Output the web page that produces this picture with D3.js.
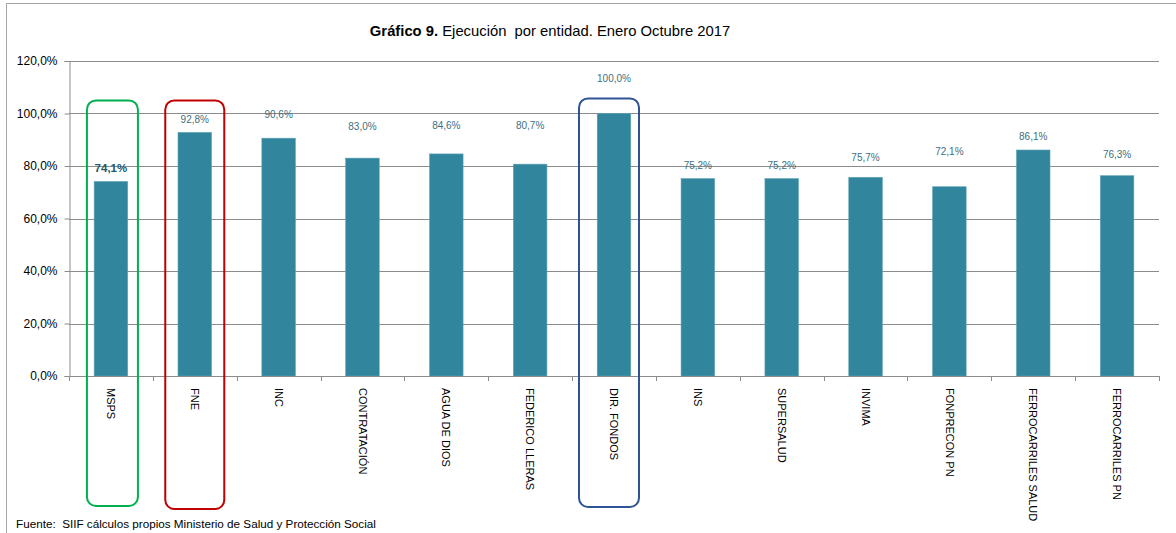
<!DOCTYPE html>
<html>
<head>
<meta charset="utf-8">
<script src="https://cdn.jsdelivr.net/npm/d3@7"></script>
<style>
  body { margin: 0; background: #fff; }
  svg { display: block; font-family: "Liberation Sans", Arial, sans-serif; }
</style>
</head>
<body>
<svg id="chart" width="1176" height="533"></svg>
<script>
// data
const categories = ["MSPS", "FNE", "INC", "CONTRATACIÓN", "AGUA DE DIOS", "FEDERICO LLERAS",
  "DIR. FONDOS", "INS", "SUPERSALUD", "INVIMA", "FONPRECON PN", "FERROCARRILES SALUD", "FERROCARRILES PN"];
const values = [74.1, 92.8, 90.6, 83.0, 84.6, 80.7, 100.0, 75.2, 75.2, 75.7, 72.1, 86.1, 76.3];
const yTicks = [0, 20, 40, 60, 80, 100, 120];
const highlighted = ["MSPS", "FNE", "DIR. FONDOS"];
const highlightColors = ["#00b050", "#c00000", "#2f5496"];

// the original labels sit at uneven heights above the bars (px above bar top)
const labelLift = [14, 13, 24, 32, 28, 39, 35, 13, 13, 20, 35, 13, 21];
const boxStyle = [
  { w: 51, dx: 1.5, bottom: 506 },
  { w: 59, dx: 0, bottom: 509 },
  { w: 60, dx: -5, bottom: 507 }
];

const svg = d3.select("#chart");
const plotL = 69, plotR = 1159, plotT = 61, plotB = 376;

const locale = d3.formatLocale({ decimal: ",", thousands: ".", grouping: [3], currency: ["$", ""] });
const pct = v => locale.format(".1f")(v) + "%";

const x = d3.scaleBand().domain(categories).range([plotL, plotR]).paddingInner(0.6).paddingOuter(0.3);
const xEdges = d3.scaleLinear().domain([0, categories.length]).range([plotL, plotR]);
const y = d3.scaleLinear().domain([0, 120]).range([plotB, plotT]);

// outer frame
svg.append("rect").attr("x", 6.5).attr("y", 3.5).attr("width", 1200).attr("height", 560)
  .attr("fill", "none").attr("stroke", "#a6a6a6");

// title
const title = svg.append("text").attr("x", 550).attr("y", 36).attr("text-anchor", "middle")
  .attr("font-size", 14.8).attr("fill", "#000").style("white-space", "pre");
title.append("tspan").attr("font-weight", "bold").text("Gráfico 9.");
title.append("tspan").text(" Ejecución  por entidad. Enero Octubre 2017");

// grid lines
svg.append("g").selectAll("line").data(yTicks.filter(d => d > 0)).join("line")
  .attr("x1", plotL).attr("x2", plotR)
  .attr("y1", d => Math.round(y(d)) + 0.5).attr("y2", d => Math.round(y(d)) + 0.5)
  .attr("stroke", "#8c8c8c").attr("stroke-width", 1);

// y axis
const yAxis = svg.append("g").attr("transform", `translate(${plotL + 0.5},0)`)
  .call(d3.axisLeft(y).tickValues(yTicks).tickSize(5).tickPadding(7).tickFormat(pct));
yAxis.select(".domain").attr("stroke", "#8c8c8c");
yAxis.selectAll(".tick line").attr("stroke", "#8c8c8c");
yAxis.selectAll("text").attr("font-size", 12).attr("fill", "#000").attr("font-family", "Liberation Sans, Arial");

// bars
svg.append("g").selectAll("rect").data(values).join("rect")
  .attr("x", (d, i) => x(categories[i]))
  .attr("y", d => y(d))
  .attr("width", x.bandwidth())
  .attr("height", d => y(0) - y(d))
  .attr("fill", "#31859c")
  .attr("stroke", "#5fa3b5").attr("stroke-width", 0.6);

// x axis with ticks at category edges
const xa = svg.append("g");
xa.append("line").attr("x1", plotL).attr("x2", plotR)
  .attr("y1", Math.round(plotB) + 0.5).attr("y2", Math.round(plotB) + 0.5).attr("stroke", "#8c8c8c");
xa.selectAll("line.t").data(d3.range(categories.length + 1)).join("line").attr("class", "t")
  .attr("x1", d => Math.round(xEdges(d)) + 0.5).attr("x2", d => Math.round(xEdges(d)) + 0.5)
  .attr("y1", plotB).attr("y2", plotB + 5).attr("stroke", "#8c8c8c");

// category labels, rotated
svg.append("g").selectAll("text").data(categories).join("text")
  .attr("transform", d => `translate(${x(d) + x.bandwidth() / 2},388) rotate(90)`)
  .attr("dy", "0.35em")
  .attr("font-size", 11).attr("fill", "#000")
  .text(d => d);

// value labels
svg.append("g").selectAll("text").data(values).join("text")
  .attr("x", (d, i) => x(categories[i]) + x.bandwidth() / 2)
  .attr("y", (d, i) => y(d) - labelLift[i])
  .attr("dy", "0.35em")
  .attr("text-anchor", "middle")
  .attr("font-size", (d, i) => i === 0 ? 11.5 : 10)
  .attr("font-weight", (d, i) => i === 0 ? "bold" : "normal")
  .attr("fill", (d, i) => i === 0 ? "#24586a" : "#3d6f80")
  .text(d => pct(d));

// highlight boxes
svg.append("g").selectAll("rect").data(highlighted).join("rect")
  .attr("x", (d, i) => x(d) + x.bandwidth() / 2 + boxStyle[i].dx - boxStyle[i].w / 2)
  .attr("y", (d, i) => y(105) - (i === 2 ? 2 : 0))
  .attr("width", (d, i) => boxStyle[i].w)
  .attr("height", (d, i) => boxStyle[i].bottom - y(105) + (i === 2 ? 2 : 0))
  .attr("rx", 9).attr("ry", 9)
  .attr("fill", "none")
  .attr("stroke", (d, i) => highlightColors[i])
  .attr("stroke-width", 2);

// source note
svg.append("text").attr("x", 16).attr("y", 528).attr("font-size", 11.7).attr("fill", "#000")
  .style("white-space", "pre")
  .text("Fuente:  SIIF cálculos propios Ministerio de Salud y Protección Social");
</script>
</body>
</html>
